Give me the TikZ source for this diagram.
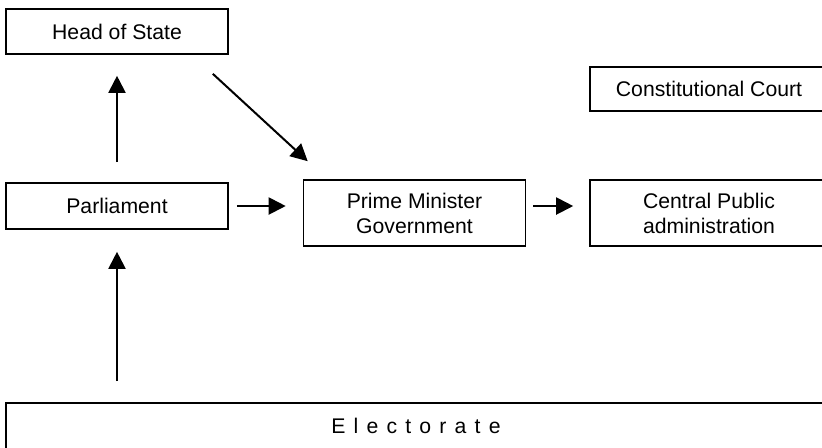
\documentclass[tikz,border=0pt]{standalone}
\usepackage{fontspec}
\setmainfont{Liberation Sans}
\usetikzlibrary{arrows.meta,positioning,calc}

\begin{document}
\begin{tikzpicture}[x=0.5pt,y=-0.5pt]
		\tikzset{
			basefont/.style = {font = \fontsize{10.6}{12.5}\selectfont},
			box/.style = {basefont, draw, line width = 0.8pt, align = center, inner sep = 0pt},
			smallbox/.style = {box, minimum width = 111pt, minimum height = 22.5pt},
			widebox/.style = {box, minimum width = 119pt},
			tallbox/.style = {box, minimum height = 33pt},
			link/.style = {line width = 1pt, -{Triangle[length=8.5pt,width=8.5pt]}},
		};

		\useasboundingbox (0,0) rectangle (822,447);

		\node[smallbox] (head) at (117,31.5) {Head of State};
		\node[smallbox, minimum height = 23pt] (parl) at (117,206) {Parliament};
		\node[tallbox, minimum width = 111pt] (pm) at (414.5,213) {Prime Minister\\Government};
		\node[tallbox, widebox] (cpa) at (709,213) {Central Public\\administration};
		\node[widebox, minimum height = 22pt] (court) at (709,89) {Constitutional Court};
		\node[box, minimum width = 410pt, minimum height = 23pt] (elec) at (416,426) {{\spaceskip=4.1pt E l e c t o r a t e}};

		\draw[link, shorten < = 10pt, shorten > = 10.5pt] (parl.north) -- (head.south);
		\draw[link, shorten < = 10.5pt, shorten > = 11pt] (elec.north -| parl.south) -- (parl.south);
		\draw[link] ([xshift=-8pt,yshift=-9.5pt]head.south east) -- ([xshift=2.5pt,yshift=9pt]pm.north west);
		\draw[link, shorten < = 4pt, shorten > = 8.5pt] (parl.east) -- (parl.east -| pm.west);
		\draw[link, shorten < = 3.5pt, shorten > = 8pt] (pm.east |- parl.east) -- (cpa.west |- parl.east);
	\end{tikzpicture}
\end{document}
